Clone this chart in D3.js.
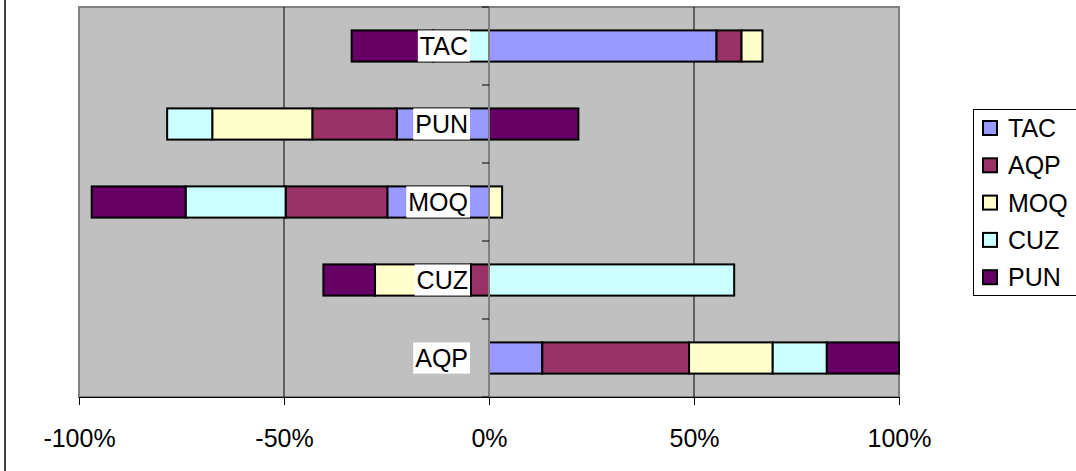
<!DOCTYPE html>
<html>
<head>
<meta charset="utf-8">
<script src="https://cdn.jsdelivr.net/npm/d3@7"></script>
<style>
  body { margin: 0; background: #fff; }
  svg { display: block; font-family: Arial, "Liberation Sans", sans-serif; }
</style>
</head>
<body>
<div id="chart"></div>
<script>
// categories top to bottom, series in stacking order
var categories = ["TAC", "PUN", "MOQ", "CUZ", "AQP"];
var seriesNames = ["TAC", "AQP", "MOQ", "CUZ", "PUN"];
var seriesColors = ["#9999ff", "#993366", "#ffffcc", "#ccffff", "#660066"];

// values in %, one per category (same order as categories)
var tacValues = [55.5, -22.5, -24.8, 0, 13.0];
var aqpValues = [6.1, -20.6, -24.8, -4.4, 35.8];
var moqValues = [5.1, -24.4, 3.2, -23.4, 20.4];
var cuzValues = [-13.7, -11.0, -24.4, 59.8, 13.2];
var punValues = [-19.8, 21.8, -22.9, -12.6, 17.6];

var xTicks = [-100, -50, 0, 50, 100];

var width = 1076, height = 471;
var plot = {left: 79, right: 899, top: 7, bottom: 397};

var svg = d3.select("#chart").append("svg")
  .attr("width", width)
  .attr("height", height);

// build table for the stack
var allValues = [tacValues, aqpValues, moqValues, cuzValues, punValues];
var table = categories.map(function(c, i) {
  var row = {cat: c};
  seriesNames.forEach(function(s, j) { row[s] = allValues[j][i]; });
  return row;
});

var stacked = d3.stack()
  .keys(seriesNames)
  .offset(d3.stackOffsetDiverging)(table);

var x = d3.scaleLinear().domain([-100, 100]).range([plot.left, plot.right]);
var y = d3.scaleBand().domain(categories)
  .range([plot.top, plot.bottom])
  .paddingInner(0.6).paddingOuter(0.3);

// outer chart border (only left side is visible)
svg.append("line")
  .attr("x1", 5).attr("x2", 5).attr("y1", 0).attr("y2", height)
  .attr("stroke", "#000").attr("stroke-width", 1.5);

// plot area
svg.append("rect")
  .attr("x", plot.left).attr("y", plot.top)
  .attr("width", plot.right - plot.left).attr("height", plot.bottom - plot.top)
  .attr("fill", "#c0c0c0")
  .attr("stroke", "#808080").attr("stroke-width", 2);

// gridlines
svg.append("g").selectAll("line")
  .data([-50, 50])
  .enter().append("line")
  .attr("x1", function(d) { return x(d); })
  .attr("x2", function(d) { return x(d); })
  .attr("y1", plot.top).attr("y2", plot.bottom)
  .attr("stroke", "#000").attr("stroke-width", 1);

// bars
var layers = svg.append("g").selectAll("g")
  .data(stacked)
  .enter().append("g")
  .attr("fill", function(d, i) { return seriesColors[i]; });

layers.selectAll("rect")
  .data(function(d) { return d.filter(function(p) { return p[1] - p[0] !== 0; }); })
  .enter().append("rect")
  .attr("x", function(d) { return x(Math.min(d[0], d[1])); })
  .attr("width", function(d) { return Math.abs(x(d[1]) - x(d[0])); })
  .attr("y", function(d) { return y(d.data.cat); })
  .attr("height", y.bandwidth())
  .attr("stroke", "#000")
  .attr("stroke-width", 2);

// vertical category axis at 0
var x0 = x(0);
svg.append("line")
  .attr("x1", x0).attr("x2", x0)
  .attr("y1", plot.top).attr("y2", plot.bottom)
  .attr("stroke", "#808080").attr("stroke-width", 2);

var step = y.step();
svg.append("g").selectAll("line")
  .data(d3.range(categories.length + 1))
  .enter().append("line")
  .attr("x1", x0 - 7).attr("x2", x0)
  .attr("y1", function(i) { return plot.top + i * step; })
  .attr("y2", function(i) { return plot.top + i * step; })
  .attr("stroke", "#000").attr("stroke-width", 1);

// category labels with white boxes
var catLabels = svg.append("g").selectAll("g")
  .data(categories)
  .enter().append("g");

catLabels.append("rect").attr("fill", "#fff");
catLabels.append("text")
  .attr("x", x0 - 21)
  .attr("y", function(d) { return y(d) + y.bandwidth() / 2; })
  .attr("dy", "0.36em")
  .attr("text-anchor", "end")
  .attr("font-size", 25)
  .attr("fill", "#000")
  .text(function(d) { return d; });

catLabels.each(function() {
  var g = d3.select(this);
  var bb = g.select("text").node().getBBox();
  g.select("rect")
    .attr("x", bb.x - 2).attr("y", y(g.datum()))
    .attr("width", bb.width + 4).attr("height", y.bandwidth());
});

// x axis
var xAxis = d3.axisBottom(x)
  .tickValues(xTicks)
  .tickSize(8)
  .tickPadding(24)
  .tickFormat(function(d) { return d + "%"; });

var xAxisG = svg.append("g")
  .attr("transform", "translate(0," + plot.bottom + ")")
  .call(xAxis);
xAxisG.select(".domain").attr("stroke", "#000").attr("stroke-width", 1);
xAxisG.selectAll(".tick line").attr("stroke", "#000");
xAxisG.selectAll("text")
  .attr("font-size", 25)
  .attr("font-family", "Arial, 'Liberation Sans', sans-serif")
  .attr("fill", "#000");

// legend
var legend = svg.append("g");
legend.append("rect")
  .attr("x", 973.5).attr("y", 109.5)
  .attr("width", 120).attr("height", 186)
  .attr("fill", "#fff").attr("stroke", "#000").attr("stroke-width", 1);

var items = legend.selectAll("g.item")
  .data(seriesNames)
  .enter().append("g")
  .attr("class", "item")
  .attr("transform", function(d, i) { return "translate(0," + (128 + i * 37.3) + ")"; });

items.append("rect")
  .attr("x", 983).attr("y", -7)
  .attr("width", 14).attr("height", 14)
  .attr("fill", function(d, i) { return seriesColors[i]; })
  .attr("stroke", "#000").attr("stroke-width", 2);

items.append("text")
  .attr("x", 1008)
  .attr("dy", "0.36em")
  .attr("font-size", 25)
  .attr("fill", "#000")
  .text(function(d) { return d; });
</script>
</body>
</html>
